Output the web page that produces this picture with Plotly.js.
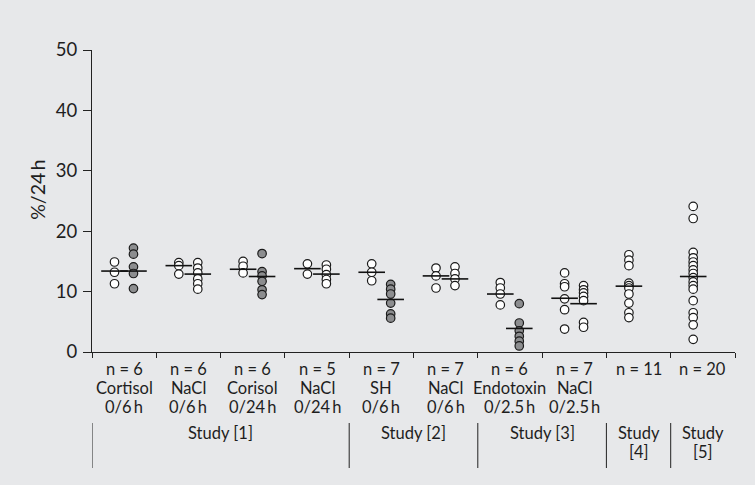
<!DOCTYPE html>
<html>
<head>
<meta charset="utf-8">
<script src="https://cdn.plot.ly/plotly-3.0.1.min.js"></script>
<style>html,body{margin:0;padding:0;background:#e7e8ea;}#chart{width:755px;height:485px;}</style>
</head>
<body>
<div id="chart"></div>
<script>
// ---- data ----
const groupN     = ['n = 6','n = 6','n = 6','n = 5','n = 7','n = 7','n = 6','n = 7','n = 11','n = 20'];
const groupTreat = ['Cortisol','NaCl','Corisol','NaCl','SH','NaCl','Endotoxin','NaCl','',''];
const groupTime  = ['0/6\u2009h','0/6\u2009h','0/24\u2009h','0/24\u2009h','0/6\u2009h','0/6\u2009h','0/2.5\u2009h','0/2.5\u2009h','',''];

const studyLine1  = ['Study [1]','Study [2]','Study [3]','Study','Study'];
const studyLine2  = ['','','','[4]','[5]'];
const studyStart  = [0,4,6,8,9];
const studyEnd    = [4,6,8,9,10];

// columns: group index, slot (0 = left/baseline, 1 = right/follow-up), filled?
const colGroup  = [0,0,1,1,2,2,3,3,4,4,5,5,6,6,7,7,8,9];
const colSlot   = [0,1,0,1,0,1,0,1,0,1,0,1,0,1,0,1,0,0];
const colFilled = [false,true,false,false,false,true,false,false,false,true,false,false,false,true,false,false,false,false];

const colValues = [
  [14.9, 13.2, 11.3],
  [17.2, 16.2, 14.1, 13.0, 10.5],
  [14.8, 14.3, 12.9],
  [14.8, 13.9, 13.1, 12.1, 11.3, 10.4],
  [15.0, 14.2, 13.1],
  [16.3, 13.3, 12.6, 11.7, 10.3, 9.5],
  [14.6, 12.9],
  [14.4, 13.7, 12.8, 12.0, 11.3],
  [14.6, 13.2, 11.8],
  [11.2, 10.4, 9.6, 8.1, 6.3, 5.6],
  [13.9, 12.6, 10.6],
  [14.1, 13.0, 12.1, 11.0],
  [11.5, 10.6, 9.6, 7.8],
  [8.0, 4.8, 3.5, 2.6, 1.8, 1.0],
  [13.1, 11.3, 10.8, 8.8, 7.0, 3.8],
  [11.0, 10.3, 9.8, 9.2, 8.5, 4.9, 4.1],
  [16.1, 15.2, 14.3, 11.4, 11.0, 10.6, 9.6, 8.1, 6.5, 5.7],
  [24.1, 22.1, 16.5, 15.6, 14.9, 14.3, 13.6, 13.0, 12.3, 11.6, 11.0, 10.4, 8.5, 6.5, 5.7, 4.5, 2.1]
];
const colMeans = [13.4, 13.4, 14.3, 12.9, 13.7, 12.5, 13.8, 12.9, 13.2, 8.7, 12.6, 12.1, 9.6, 3.9, 8.9, 8.0, 10.9, 12.5];

const yTicks = [0,10,20,30,40,50];
const yTitle = '%/24\u2009h';

// ---- build ----
const slotOffset = [0.35, 0.645];
const FONT = 'Lato, Open Sans, sans-serif';
const TXT = '#1e1e1e';

const traces = [];
const meanX = [], meanY = [];
colValues.forEach((vals, i) => {
  const x = colGroup[i] + slotOffset[colSlot[i]];
  traces.push({
    type: 'scatter', mode: 'markers',
    x: vals.map(() => x), y: vals,
    marker: {size: 8.5, color: colFilled[i] ? '#8c8d8f' : '#ffffff',
             line: {color: '#1a1a1a', width: 1.2}},
    hoverinfo: 'y', showlegend: false, cliponaxis: false
  });
  meanX.push(x); meanY.push(colMeans[i]);
});
traces.push({
  type: 'scatter', mode: 'markers', x: meanX, y: meanY,
  marker: {symbol: 'line-ew', size: 19, line: {color: '#111', width: 1.6}},
  showlegend: false, hoverinfo: 'y', cliponaxis: false
});

const plotH = 485 - 50 - 133;
const px = p => -p / plotH; // pixels below axis -> paper coords

const annotations = [];
function label(x, text, shift) {
  if (!text) return;
  annotations.push({
    x: x, xref: 'x', y: 0, yref: 'paper', yanchor: 'middle', xanchor: 'center',
    yshift: shift, text: text, showarrow: false,
    font: {family: FONT, size: 16.5, color: TXT}
  });
}
for (let g = 0; g < groupN.length; g++) {
  label(g + 0.5, groupN[g], -16.5);
  label(g + 0.5, groupTreat[g], -35.5);
  label(g + 0.5, groupTime[g], -54.5);
}
const shapes = [];
for (let s = 0; s < studyStart.length; s++) {
  const cx = (studyStart[s] + studyEnd[s]) / 2;
  label(cx, studyLine1[s], -80.5);
  label(cx, studyLine2[s], -99.5);
  shapes.push({type: 'line', xref: 'x', yref: 'paper', x0: studyStart[s], x1: studyStart[s],
    y0: px(71), y1: px(116), line: {color: '#222', width: 1}});
}
annotations.push({
  x: -0.084, xref: 'paper', y: 0.537, yref: 'paper', textangle: -90,
  xanchor: 'center', yanchor: 'middle',
  text: yTitle, showarrow: false, font: {family: FONT, size: 19.5, color: TXT}
});

const layout = {
  width: 755, height: 485,
  margin: {l: 92, r: 20, t: 50, b: 133},
  paper_bgcolor: '#e7e8ea', plot_bgcolor: '#e7e8ea',
  font: {family: FONT, color: TXT},
  xaxis: {range: [0, 10], tickvals: [0,1,2,3,4,5,6,7,8,9,10], showticklabels: false,
          ticks: 'outside', ticklen: 5, tickcolor: '#222', showline: true, linecolor: '#222',
          linewidth: 1, showgrid: false, zeroline: false, fixedrange: true},
  yaxis: {range: [0, 50], tickvals: yTicks, ticks: 'outside', ticklen: 8, tickcolor: '#222',
          showline: true, linecolor: '#222', linewidth: 1, showgrid: false, zeroline: false,
          ticklabelstandoff: 2,
          tickfont: {family: FONT, size: 18.5, color: TXT}, fixedrange: true},
  annotations: annotations, shapes: shapes
};

Plotly.newPlot('chart', traces, layout, {displayModeBar: false, staticPlot: true});
</script>
</body>
</html>
